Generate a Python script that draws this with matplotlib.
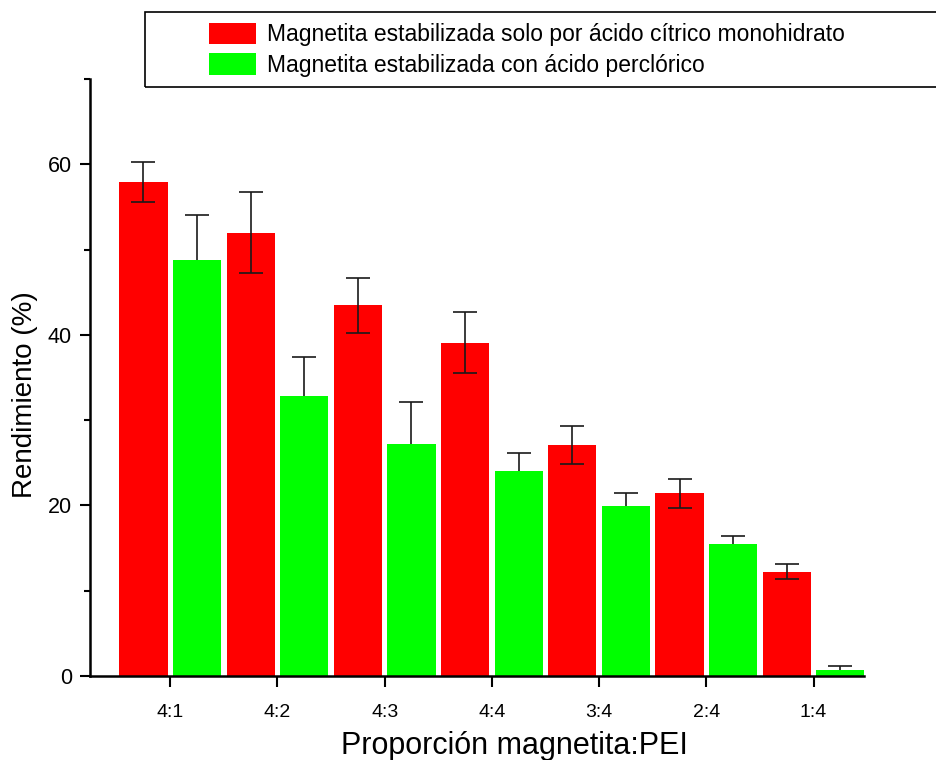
import numpy as np
import matplotlib
matplotlib.use('Agg')
import matplotlib.pyplot as plt
from matplotlib.patches import Rectangle
from matplotlib.ticker import MultipleLocator

plt.rcParams['font.family'] = ['Liberation Sans', 'DejaVu Sans']

# ── Datos ─────────────────────────────────────────────────────────────────────
proporciones = ['4:1', '4:2', '4:3', '4:4', '3:4', '2:4', '1:4']
citrico = [57.9, 51.95, 43.45, 39.1, 27.05, 21.4, 12.25]
citrico_err = [2.35, 4.75, 3.25, 3.6, 2.25, 1.7, 0.9]
perclorico = [48.75, 32.85, 27.2, 24.0, 19.95, 15.5, 0.7]
perclorico_err = [5.25, 4.6, 4.9, 2.2, 1.45, 0.9, 0.45]

lab_citrico = 'Magnetita estabilizada solo por ácido cítrico monohidrato'
lab_perclorico = 'Magnetita estabilizada con ácido perclórico'

# ── Figura ────────────────────────────────────────────────────────────────────
fig = plt.figure(figsize=(9.36, 7.6), dpi=100)
ax = fig.add_axes([90 / 936, 84 / 760, 774 / 936, 597 / 760])

x = np.arange(len(proporciones))
w = 0.45
b1 = ax.bar(x - 0.25, citrico, w, color='#ff0000', label=lab_citrico, zorder=2)
b2 = ax.bar(x + 0.25, perclorico, w, color='#00ff00', label=lab_perclorico, zorder=2)

ax.errorbar(x - 0.25, citrico, yerr=citrico_err, fmt='none', ecolor='#1a1a1a',
            elinewidth=1.2, capsize=8.5, capthick=1.2, zorder=3)
eb = ax.errorbar(x + 0.25, perclorico, yerr=[np.zeros(len(x)), perclorico_err],
                 fmt='none', ecolor='#1a1a1a', elinewidth=1.2, capsize=8.5,
                 capthick=1.2, zorder=3)
eb[1][0].set_visible(False)  # solo la barra de error superior

ax.set_xlim(-0.748, 6.47)
ax.set_ylim(0, 70)
ax.set_xticks(x)
ax.set_xticklabels(proporciones, fontsize=14)
ax.yaxis.set_major_locator(MultipleLocator(20))
ax.yaxis.set_minor_locator(MultipleLocator(10))
ax.tick_params(axis='y', which='major', direction='out', length=7, width=1.5,
               labelsize=15.5, pad=6)
ax.tick_params(axis='y', which='minor', direction='out', length=4, width=1.5)
ax.tick_params(axis='x', which='major', direction='out', length=8, width=1.5,
               pad=12)

for s in ['top', 'right']:
    ax.spines[s].set_visible(False)
for s in ['left', 'bottom']:
    ax.spines[s].set_linewidth(1.8)

fig.text(514 / 936, 1 - 746 / 760, 'Proporción magnetita:PEI', fontsize=22,
         ha='center', va='center')
fig.text(25 / 936, 1 - 395 / 760, 'Rendimiento (%)', fontsize=20,
         ha='center', va='center', rotation=90)

# ── Leyenda ───────────────────────────────────────────────────────────────────
fig.patches.append(Rectangle((145 / 936, 1 - 87 / 760), 800 / 936, 75 / 760,
                             transform=fig.transFigure, fill=False,
                             edgecolor='black', linewidth=1.2))
fig.legend(handles=[b1, b2], loc='upper left',
           bbox_to_anchor=(209 / 936, 1 - 23 / 760), frameon=False,
           fontsize=16.5, borderpad=0, borderaxespad=0, handlelength=2.05,
           handleheight=1.05, handletextpad=0.5, labelspacing=0.3)

plt.savefig('out.png', dpi=100)
plt.close()
